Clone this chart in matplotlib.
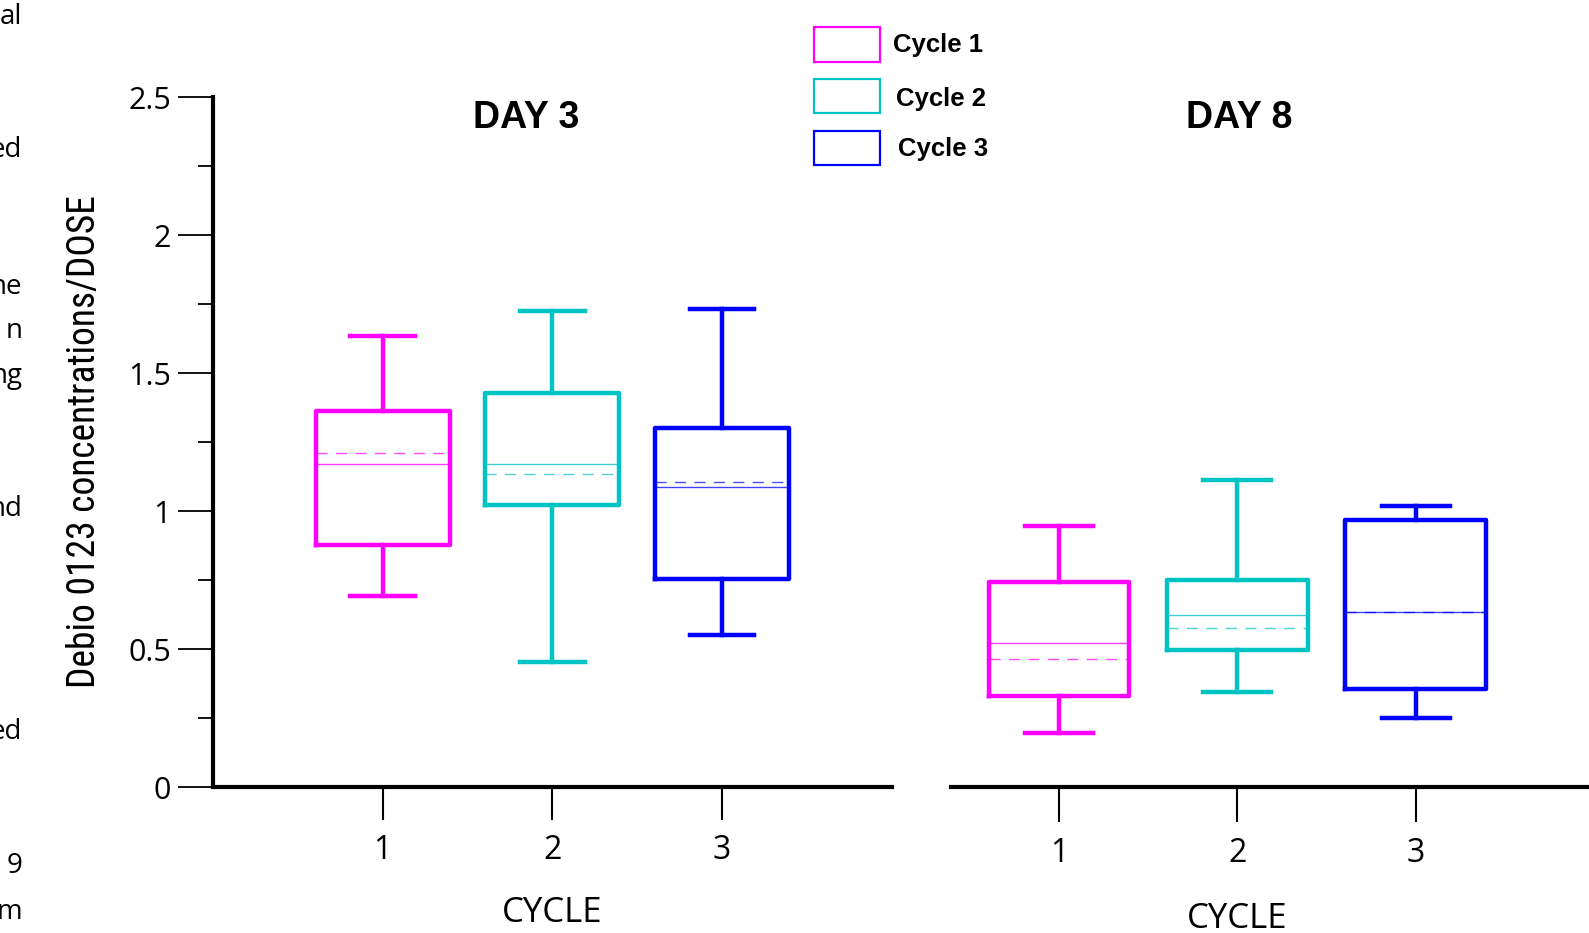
import matplotlib
matplotlib.use("Agg")
import matplotlib.pyplot as plt
from matplotlib.patches import Rectangle
from matplotlib import font_manager

# ---------- Data ----------
cycles = [1, 2, 3]
cycle_names = ["Cycle 1", "Cycle 2", "Cycle 3"]
colors = ["#FF00FF", "#00C3C3", "#0000FF"]

# Day 3
d3_low = [0.694, 0.455, 0.551]
d3_q1 = [0.877, 1.024, 0.756]
d3_med = [1.171, 1.171, 1.087]
d3_mean = [1.211, 1.134, 1.105]
d3_q3 = [1.362, 1.428, 1.300]
d3_high = [1.634, 1.725, 1.733]

# Day 8
d8_low = [0.195, 0.345, 0.250]
d8_q1 = [0.330, 0.496, 0.356]
d8_med = [0.521, 0.624, 0.635]
d8_mean = [0.463, 0.576, 0.635]
d8_q3 = [0.745, 0.749, 0.969]
d8_high = [0.947, 1.112, 1.017]

# scraps of page text cut off at the left edge
side_text = ["al", "ed", "ne", "n", "ng", "nd", "ed", "9", "m"]
side_y = [17, 148, 283, 327, 371, 502, 723, 855, 900]

W, H = 1568.0, 921.0  # coords measured on the shown image

installed = {f.name for f in font_manager.fontManager.ttflist}
narrow = [f for f in ["Roboto Condensed", "Liberation Sans Narrow", "Open Sans Condensed"]
          if f in installed]
ylab_family = narrow[0] if narrow else "DejaVu Sans"
ylab_size = 27 if narrow else 21


def make_stats(low, q1, med, mean, q3, high):
    return [dict(whislo=a, q1=b, med=c, mean=d, q3=e, whishi=f, fliers=[])
            for a, b, c, d, e, f in zip(low, q1, med, mean, q3, high)]


def draw_day(ax, stats):
    for i, st in enumerate(stats):
        c = colors[i]
        ax.bxp([st], positions=[cycles[i]], widths=0.79, capwidths=0.38,
               showmeans=True, meanline=True, showfliers=False,
               boxprops=dict(color=c, linewidth=3.2),
               whiskerprops=dict(color=c, linewidth=3.2),
               capprops=dict(color=c, linewidth=3.2),
               medianprops=dict(color=c, linewidth=1.0, alpha=0.75),
               meanprops=dict(color=c, linewidth=1.0, alpha=0.7,
                              linestyle=(0, (8, 6))))
    ax.set_ylim(0, 2.5)
    ax.set_xticks(cycles)
    ax.set_xticklabels([str(c) for c in cycles], fontsize=23, family="Open Sans")
    ax.tick_params(axis="x", direction="out", length=24, width=1.5, pad=10)
    for s in ["top", "right"]:
        ax.spines[s].set_visible(False)
    ax.spines["bottom"].set_linewidth(3)


fig = plt.figure(figsize=(15.89, 9.33), dpi=100)

# ---------- Day 3 ----------
ax1 = fig.add_axes([210 / W, 1 - 777 / H, (880 - 210) / W, (777 - 96) / H])
draw_day(ax1, make_stats(d3_low, d3_q1, d3_med, d3_mean, d3_q3, d3_high))
ax1.set_xlim(0, 4)
ax1.spines["left"].set_linewidth(3)
ax1.set_yticks([0, 0.5, 1, 1.5, 2, 2.5])
ax1.set_yticklabels(["0", "0.5", "1", "1.5", "2", "2.5"], fontsize=22, family="Open Sans")
ax1.set_yticks([0.25, 0.75, 1.25, 1.75, 2.25], minor=True)
ax1.tick_params(axis="y", which="major", length=25, width=1.3, pad=5)
ax1.tick_params(axis="y", which="minor", length=11, width=1.3)

# ---------- Day 8 ----------
x8_left = 938 / W
x8_right = (1045 + 3 * 176) / W
ax2 = fig.add_axes([x8_left, 1 - 777 / H, x8_right - x8_left, (777 - 96) / H])
draw_day(ax2, make_stats(d8_low, d8_q1, d8_med, d8_mean, d8_q3, d8_high))
ax2.set_xlim(1 - 107 / 176, 4)
ax2.spines["left"].set_visible(False)
ax2.set_yticks([])
ax2.tick_params(axis="x", length=25, pad=11)

# ---------- Texts ----------
fig.text(519 / W, 1 - 116 / H, "DAY 3", fontsize=27, fontweight="bold",
         family="Liberation Sans", ha="center", va="center")
fig.text(1223 / W, 1 - 116 / H, "DAY 8", fontsize=27, fontweight="bold",
         family="Liberation Sans", ha="center", va="center")
fig.text(545 / W, 1 - 901 / H, "CYCLE", fontsize=25, family="Open Sans",
         ha="center", va="center")
fig.text(1221 / W, 1 - 907 / H, "CYCLE", fontsize=25, family="Open Sans",
         ha="center", va="center")
fig.text(83 / W, 1 - 436 / H, "Debio 0123 concentrations/DOSE", fontsize=ylab_size,
         family=[ylab_family, "DejaVu Sans"], rotation=90,
         ha="center", va="center")

for t, y in zip(side_text, side_y):
    fig.text(22 / W, 1 - y / H, t, fontsize=20, family="Open Sans",
             ha="right", va="center")

# ---------- Legend ----------
leg_box_y = [27, 78, 129]
leg_text_x = [881, 884, 886]
leg_text_y = [44, 98, 147]
for i in range(3):
    fig.patches.append(Rectangle((803 / W, 1 - (leg_box_y[i] + 34) / H), 65 / W, 34 / H,
                                 transform=fig.transFigure, fill=False,
                                 edgecolor=colors[i], linewidth=1.6))
    fig.text(leg_text_x[i] / W, 1 - leg_text_y[i] / H, cycle_names[i], fontsize=18.5,
             fontweight="bold", family="Liberation Sans", ha="left", va="center")

fig.savefig("out.png", dpi=100)
